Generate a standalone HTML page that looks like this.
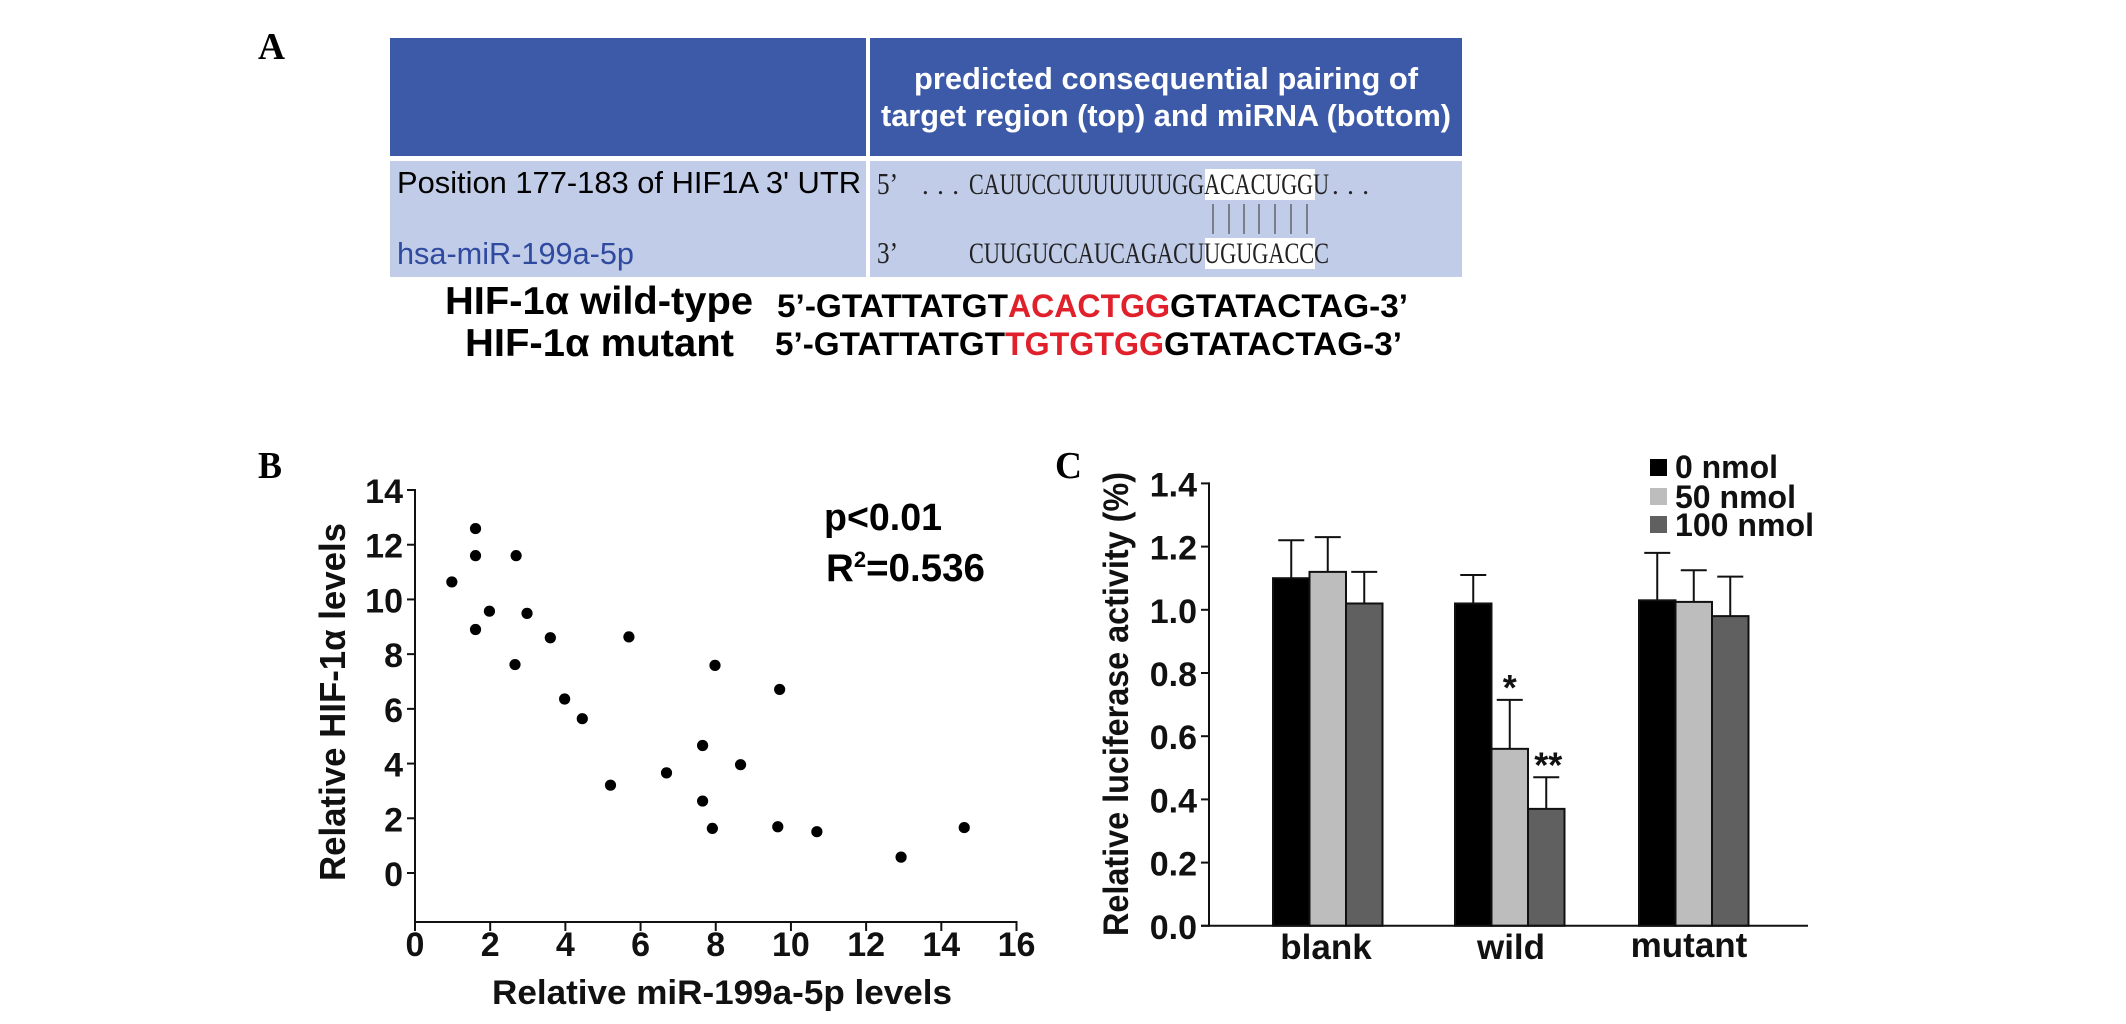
<!DOCTYPE html>
<html lang="en">
<head>
<meta charset="utf-8">
<title>miR-199a-5p and HIF-1α figure</title>
<style>
html,body{margin:0;padding:0;background:#fff;width:2126px;height:1024px;overflow:hidden}
svg{display:block}
text{font-family:"Liberation Sans",sans-serif}
.serif{font-family:"Liberation Serif",serif}
.b{font-weight:bold}
</style>
</head>
<body>
<svg id="figure" width="2126" height="1024" viewBox="0 0 2126 1024" xmlns="http://www.w3.org/2000/svg">
<rect width="2126" height="1024" fill="#fff"/>

<text class="serif b" x="258" y="59" font-size="38" fill="#000" textLength="27" lengthAdjust="spacingAndGlyphs">A</text>
<text class="serif b" x="258" y="478" font-size="38" fill="#000" textLength="24" lengthAdjust="spacingAndGlyphs">B</text>
<text class="serif b" x="1055" y="478" font-size="38" fill="#000" textLength="27" lengthAdjust="spacingAndGlyphs">C</text>

<g>
<rect x="390" y="38" width="476" height="118" fill="#3d5aa9"/>
<rect x="870" y="38" width="592" height="118" fill="#3d5aa9"/>
<rect x="390" y="161" width="476" height="116" fill="#c1cce9"/>
<rect x="870" y="161" width="592" height="116" fill="#c1cce9"/>
<text class="b" x="914" y="89" font-size="31" fill="#fff" textLength="504" lengthAdjust="spacingAndGlyphs">predicted consequential pairing of</text>
<text class="b" x="881" y="126" font-size="31" fill="#fff" textLength="570" lengthAdjust="spacingAndGlyphs">target region (top) and miRNA (bottom)</text>
<text x="397" y="193" font-size="31" fill="#000" textLength="464" lengthAdjust="spacingAndGlyphs">Position 177-183 of HIF1A 3' UTR</text>
<text x="397" y="264" font-size="31" fill="#2f4a9e" textLength="237" lengthAdjust="spacingAndGlyphs">hsa-miR-199a-5p</text>
<rect x="1205" y="169" width="110" height="31" fill="#fff"/>
<rect x="1205" y="238" width="110" height="31" fill="#fff"/>
<text class="serif" x="877" y="194" font-size="31" fill="#222" textLength="21" lengthAdjust="spacingAndGlyphs">5’</text>
<text class="serif" x="877" y="263" font-size="31" fill="#222" textLength="21" lengthAdjust="spacingAndGlyphs">3’</text>
<text class="serif" x="922" y="194" font-size="27" fill="#222" textLength="37">...</text>
<text class="serif" x="969" y="194" font-size="30" fill="#222" textLength="360" lengthAdjust="spacingAndGlyphs">CAUUCCUUUUUUUGGACACUGGU</text>
<text class="serif" x="1332" y="194" font-size="27" fill="#222" textLength="37">...</text>
<text class="serif" x="969" y="263" font-size="30" fill="#222" textLength="360" lengthAdjust="spacingAndGlyphs">CUUGUCCAUCAGACUUGUGACCC</text>
<g stroke="#555" stroke-width="1.3">
<line x1="1213" y1="204" x2="1213" y2="234"/>
<line x1="1229" y1="204" x2="1229" y2="234"/>
<line x1="1244" y1="204" x2="1244" y2="234"/>
<line x1="1259" y1="204" x2="1259" y2="234"/>
<line x1="1275" y1="204" x2="1275" y2="234"/>
<line x1="1291" y1="204" x2="1291" y2="234"/>
<line x1="1307" y1="204" x2="1307" y2="234"/>
</g>
</g>

<g>
<text class="b" x="445" y="314" font-size="39" fill="#000" textLength="308" lengthAdjust="spacingAndGlyphs">HIF-1α wild-type</text>
<text class="b" x="465" y="356" font-size="39" fill="#000" textLength="269" lengthAdjust="spacingAndGlyphs">HIF-1α mutant</text>
<text class="b" x="777" y="317" font-size="32" fill="#000" textLength="231" lengthAdjust="spacingAndGlyphs">5’-GTATTATGT</text>
<text class="b" x="1008" y="317" font-size="32" fill="#e0202a" textLength="162" lengthAdjust="spacingAndGlyphs">ACACTGG</text>
<text class="b" x="1170" y="317" font-size="32" fill="#000" textLength="238" lengthAdjust="spacingAndGlyphs">GTATACTAG-3’</text>
<text class="b" x="775" y="355" font-size="32" fill="#000" textLength="230" lengthAdjust="spacingAndGlyphs">5’-GTATTATGT</text>
<text class="b" x="1005" y="355" font-size="32" fill="#e0202a" textLength="159" lengthAdjust="spacingAndGlyphs">TGTGTGG</text>
<text class="b" x="1164" y="355" font-size="32" fill="#000" textLength="238" lengthAdjust="spacingAndGlyphs">GTATACTAG-3’</text>
</g>

<g id="scatter-chart">
<text class="b" x="824" y="530" font-size="38" fill="#000" textLength="118" lengthAdjust="spacingAndGlyphs">p&lt;0.01</text>
<text class="b" x="826" y="581" font-size="38.5" fill="#000">R<tspan font-size="22" dy="-14">2</tspan><tspan dy="14">=0.536</tspan></text>
<text class="b" x="492" y="1004" font-size="34" fill="#111" textLength="460" lengthAdjust="spacingAndGlyphs">Relative miR-199a-5p levels</text>
<text class="b" x="0" y="0" transform="translate(345,881) rotate(-90)" font-size="36" fill="#111" textLength="358" lengthAdjust="spacingAndGlyphs">Relative HIF-1α levels</text>
</g>

<g id="bar-chart">
<text class="b" x="0" y="0" transform="translate(1128,936) rotate(-90)" font-size="35" fill="#111" textLength="464" lengthAdjust="spacingAndGlyphs">Relative luciferase activity (%)</text>
<rect x="1650" y="459" width="17" height="17" fill="#000"/>
<rect x="1650" y="488" width="17" height="17" fill="#bdbdbd"/>
<rect x="1650" y="516" width="17" height="17" fill="#606060"/>
<text class="b" x="1675" y="478" font-size="32" fill="#111" textLength="103" lengthAdjust="spacingAndGlyphs">0 nmol</text>
<text class="b" x="1675" y="508" font-size="32" fill="#111" textLength="121" lengthAdjust="spacingAndGlyphs">50 nmol</text>
<text class="b" x="1675" y="536" font-size="32" fill="#111" textLength="139" lengthAdjust="spacingAndGlyphs">100 nmol</text>
</g>
</svg>

<script>
var scatterX = [0.98,1.61,1.61,2.69,1.98,2.98,1.61,3.6,5.69,2.66,7.98,9.7,3.98,4.45,7.65,8.66,6.69,5.2,7.65,7.91,9.65,10.69,12.93,14.61];
var scatterY = [10.64,12.59,11.6,11.6,9.57,9.49,8.9,8.6,8.63,7.62,7.59,6.71,6.36,5.64,4.66,3.96,3.66,3.21,2.63,1.63,1.69,1.51,0.58,1.66];
var scatterXTicks = [0,2,4,6,8,10,12,14,16];
var scatterYTicks = [0,2,4,6,8,10,12,14];

var barCategories = ['blank','wild','mutant'];
var barSeriesNames = ['0 nmol','50 nmol','100 nmol'];
var barValues0 = [1.10,1.02,1.03];
var barValues50 = [1.12,0.56,1.025];
var barValues100 = [1.02,0.37,0.98];
var barErrorTops0 = [1.22,1.11,1.18];
var barErrorTops50 = [1.23,0.715,1.125];
var barErrorTops100 = [1.12,0.47,1.105];
var barYTicks = ['0.0','0.2','0.4','0.6','0.8','1.0','1.2','1.4'];
var barStars50 = ['','*',''];
var barStars100 = ['','**',''];

var NS = 'http://www.w3.org/2000/svg';
function mk(tag, parent, props) {
  var el = document.createElementNS(NS, tag);
  for (var k in props) { el.setAttribute(k, props[k]); }
  parent.appendChild(el);
  return el;
}

// Scatter chart
var sRoot = document.getElementById('scatter-chart');
function sx(v) { return 415 + v * (1016.5 - 415) / 16; }
function sy(v) { return 873 - v * (873 - 490) / 14; }
var sBottom = 922;

var sYAxis = mk('line', sRoot, {x1: sx(0), y1: sy(14) - 1, x2: sx(0), y2: sBottom + 1, stroke: '#111', 'stroke-width': 2});


var sXAxis = mk('line', sRoot, {x1: sx(0) - 1, y1: sBottom, x2: sx(16) + 1, y2: sBottom, stroke: '#111', 'stroke-width': 2});



scatterYTicks.forEach(function (t) {
  var tick = mk('line', sRoot, {x1: sx(0) - 8, y1: sy(t), x2: sx(0), y2: sy(t), stroke: '#111', 'stroke-width': 2});
  
  
  var lab = mk('text', sRoot, {x: 403, y: sy(t) + 13, 'text-anchor': 'end', 'font-size': 34, 'font-weight': 'bold', fill: '#111'});
  
  
  lab.textContent = t;
});
scatterXTicks.forEach(function (t) {
  var tick = mk('line', sRoot, {x1: sx(t), y1: sBottom, x2: sx(t), y2: sBottom + 9, stroke: '#111', 'stroke-width': 2});
  
  
  var lab = mk('text', sRoot, {x: sx(t), y: 956, 'text-anchor': 'middle', 'font-size': 34, 'font-weight': 'bold', fill: '#111'});
  
  
  lab.textContent = t;
});
scatterX.forEach(function (v, i) {
  var dot = mk('circle', sRoot, {cx: sx(v), cy: sy(scatterY[i]), r: 5.6, fill: '#000'});
  
  
});

// Bar chart
var bRoot = document.getElementById('bar-chart');
function by(v) { return 925.8 - v * (925.8 - 483.4) / 1.4; }
var bAxisX = 1209;
var groupLeft = [1273, 1455, 1639];
var barWidth = 36.5;
var categoryCenter = [1326, 1511, 1689];
var categoryBaseline = [959, 959, 957];
var barFills = ['#000000', '#bdbdbd', '#606060'];
var allValues = [barValues0, barValues50, barValues100];
var allTops = [barErrorTops0, barErrorTops50, barErrorTops100];
var allStars = [null, barStars50, barStars100];

barCategories.forEach(function (cat, g) {
  barSeriesNames.forEach(function (name, s) {
    var left = groupLeft[g] + s * barWidth;
    var cx = left + barWidth / 2;
    var err = mk('line', bRoot, {x1: cx, y1: by(allTops[s][g]), x2: cx, y2: by(allValues[s][g]), stroke: '#111', 'stroke-width': 2});
    
    
    var cap = mk('line', bRoot, {x1: cx - 13, y1: by(allTops[s][g]), x2: cx + 13, y2: by(allTops[s][g]), stroke: '#111', 'stroke-width': 2});
    
    
    var bar = mk('rect', bRoot, {x: left, y: by(allValues[s][g]), width: barWidth, height: by(0) - by(allValues[s][g]), fill: barFills[s], stroke: '#111', 'stroke-width': 2});
    
    
    if (allStars[s] && allStars[s][g]) {
      var star = mk('text', bRoot, {x: cx + (allStars[s][g].length - 1) * 2, y: by(allTops[s][g]) + 0, 'text-anchor': 'middle', 'font-size': 36, 'font-weight': 'bold', fill: '#111'});
      
      
      star.textContent = allStars[s][g];
    }
  });
  var lab = mk('text', bRoot, {x: categoryCenter[g], y: categoryBaseline[g], 'text-anchor': 'middle', 'font-size': 35, 'font-weight': 'bold', fill: '#111'});
  
  
  lab.textContent = cat;
});

var bYAxis = mk('line', bRoot, {x1: bAxisX, y1: by(1.4) - 1, x2: bAxisX, y2: by(0) + 1, stroke: '#111', 'stroke-width': 2});


var bXAxis = mk('line', bRoot, {x1: bAxisX - 8, y1: by(0), x2: 1808, y2: by(0), stroke: '#111', 'stroke-width': 2});



barYTicks.forEach(function (t) {
  var v = parseFloat(t);
  var tick = mk('line', bRoot, {x1: bAxisX - 8, y1: by(v), x2: bAxisX, y2: by(v), stroke: '#111', 'stroke-width': 2});
  
  
  var lab = mk('text', bRoot, {x: 1197, y: by(v) + 13, 'text-anchor': 'end', 'font-size': 34, 'font-weight': 'bold', fill: '#111'});
  
  
  lab.textContent = t;
});
</script>
</body>
</html>
